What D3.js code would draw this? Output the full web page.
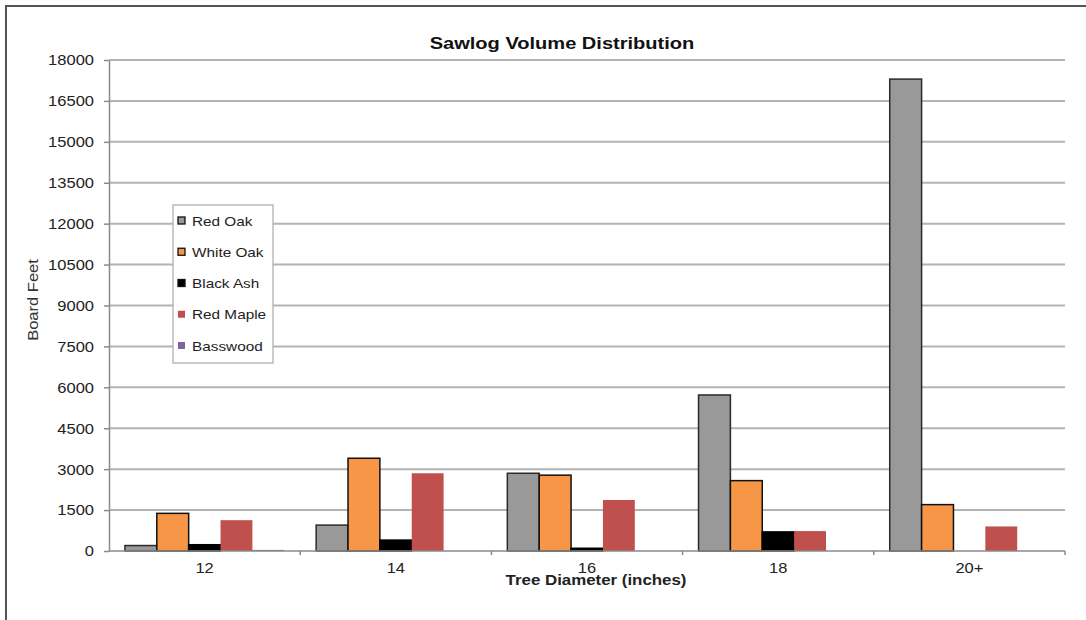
<!DOCTYPE html>
<html>
<head>
<meta charset="utf-8">
<script src="https://cdn.jsdelivr.net/npm/d3@7"></script>
<style>
  html, body { margin: 0; padding: 0; background: #fff; }
  svg { display: block; }
  text { font-family: "Liberation Sans", Arial, sans-serif; }
</style>
</head>
<body>
<svg id="chart" width="1086" height="620"></svg>
<script>
// ---- data ----
const categories = ["12", "14", "16", "18", "20+"];
const seriesNames = ["Red Oak", "White Oak", "Black Ash", "Red Maple", "Basswood"];
const redOak   = [200, 950, 2850, 5720, 17300];
const whiteOak = [1380, 3400, 2780, 2580, 1700];
const blackAsh = [230, 400, 100, 700, 0];
const redMaple = [1130, 2850, 1870, 730, 900];
const basswood = [40, 0, 0, 0, 0];
const yTicks = [0, 1500, 3000, 4500, 6000, 7500, 9000, 10500, 12000, 13500, 15000, 16500, 18000];
const titleText = "Sawlog Volume Distribution";
const xTitle = "Tree Diameter (inches)";
const yTitle = "Board Feet";

const seriesValues = [redOak, whiteOak, blackAsh, redMaple, basswood];
const fills   = ["#999999", "#F79646", "#000000", "#C0504D", "#8064A2"];
const strokes = ["#2a2a2a", "#111111", "#000000", "none", "none"];

const SX = 1.18; // horizontal text stretch of the original

const svg = d3.select("#chart");
const L = 109, R = 1065, T = 60, B = 551;

// frame
svg.append("rect").attr("x", 6).attr("y", 6).attr("width", 1100).attr("height", 700)
  .attr("fill", "none").attr("stroke", "#555").attr("stroke-width", 2);

const x0 = d3.scaleBand().domain(categories).range([L, R]).paddingInner(0).paddingOuter(0);
const x1 = d3.scaleBand().domain(seriesNames).range([0, x0.bandwidth()]).paddingInner(0).paddingOuter(0.5);
const y = d3.scaleLinear().domain([0, 18000]).range([B, T]);

// gridlines
svg.append("g").selectAll("line").data(yTicks.filter(d => d > 0)).join("line")
  .attr("x1", L).attr("x2", R).attr("y1", d => y(d)).attr("y2", d => y(d))
  .attr("stroke", "#b3b3b3").attr("stroke-width", 2);

// y axis
const yAxis = svg.append("g").attr("transform", `translate(${L},0)`)
  .call(d3.axisLeft(y).tickValues(yTicks).tickSize(5).tickSizeOuter(0).tickFormat(d => String(d)));
yAxis.select(".domain").attr("stroke", "#8a8a8a").attr("stroke-width", 1.5);
yAxis.selectAll(".tick line").attr("stroke", "#8a8a8a").attr("stroke-width", 1.5);
yAxis.selectAll(".tick text")
  .attr("x", -15 / SX).attr("dy", "0.35em")
  .attr("transform", `scale(${SX},1)`)
  .attr("font-size", 14).attr("fill", "#222")
  .style("font-family", "'Liberation Sans', Arial, sans-serif");

// bars
const groups = svg.append("g").selectAll("g").data(categories).join("g")
  .attr("transform", d => `translate(${x0(d)},0)`);
groups.selectAll("rect")
  .data((c, ci) => seriesNames.map((s, si) => ({ s, si, v: seriesValues[si][ci] })))
  .join("rect")
  .filter(d => d.v > 0)
  .attr("x", d => x1(d.s))
  .attr("width", x1.bandwidth())
  .attr("y", d => y(d.v))
  .attr("height", d => B - y(d.v))
  .attr("fill", d => fills[d.si])
  .attr("stroke", d => strokes[d.si])
  .attr("stroke-width", 1.5);

// x axis
const xAxisG = svg.append("g");
xAxisG.append("line").attr("x1", L).attr("x2", R).attr("y1", B).attr("y2", B)
  .attr("stroke", "#8a8a8a").attr("stroke-width", 1.5);
xAxisG.selectAll("line.tk").data(categories.slice(1).map(c => x0(c)).concat([R])).join("line")
  .attr("class", "tk").attr("x1", d => d).attr("x2", d => d).attr("y1", B).attr("y2", B + 4)
  .attr("stroke", "#8a8a8a").attr("stroke-width", 1.5);
xAxisG.selectAll("text").data(categories).join("text")
  .attr("transform", d => `translate(${x0(d) + x0.bandwidth() / 2},568) scale(${SX},1)`)
  .attr("text-anchor", "middle").attr("dy", "0.35em")
  .attr("font-size", 14).attr("fill", "#222").text(d => d);

// titles
svg.append("text")
  .attr("transform", `translate(562,49) scale(${SX},1)`)
  .attr("text-anchor", "middle").attr("font-size", 17).attr("font-weight", "bold")
  .attr("fill", "#111").text(titleText);
svg.append("text")
  .attr("transform", `translate(596,585) scale(${SX},1)`)
  .attr("text-anchor", "middle").attr("font-size", 14.3).attr("font-weight", "bold")
  .attr("fill", "#222").text(xTitle);
svg.append("text")
  .attr("transform", `translate(38,300) rotate(-90) scale(${SX},1)`)
  .attr("text-anchor", "middle").attr("font-size", 14).attr("fill", "#333").text(yTitle);

// legend
const leg = svg.append("g");
leg.append("rect").attr("x", 173).attr("y", 205).attr("width", 100).attr("height", 158)
  .attr("fill", "#fff").attr("stroke", "#aaa").attr("stroke-width", 1.2);
const rowY = d3.scalePoint().domain(seriesNames).range([221, 346]);
const items = leg.selectAll("g.item").data(seriesNames).join("g").attr("class", "item")
  .attr("transform", d => `translate(0,${rowY(d)})`);
items.append("rect").attr("x", 178).attr("y", -4).attr("width", 7).attr("height", 7)
  .attr("fill", (d, i) => fills[i])
  .attr("stroke", (d, i) => strokes[i] === "none" ? "none" : "#111").attr("stroke-width", 1.3);
items.append("text")
  .attr("transform", `translate(192,0) scale(${SX},1)`)
  .attr("dy", "0.35em").attr("font-size", 13).attr("fill", "#222").text(d => d);
</script>
</body>
</html>
